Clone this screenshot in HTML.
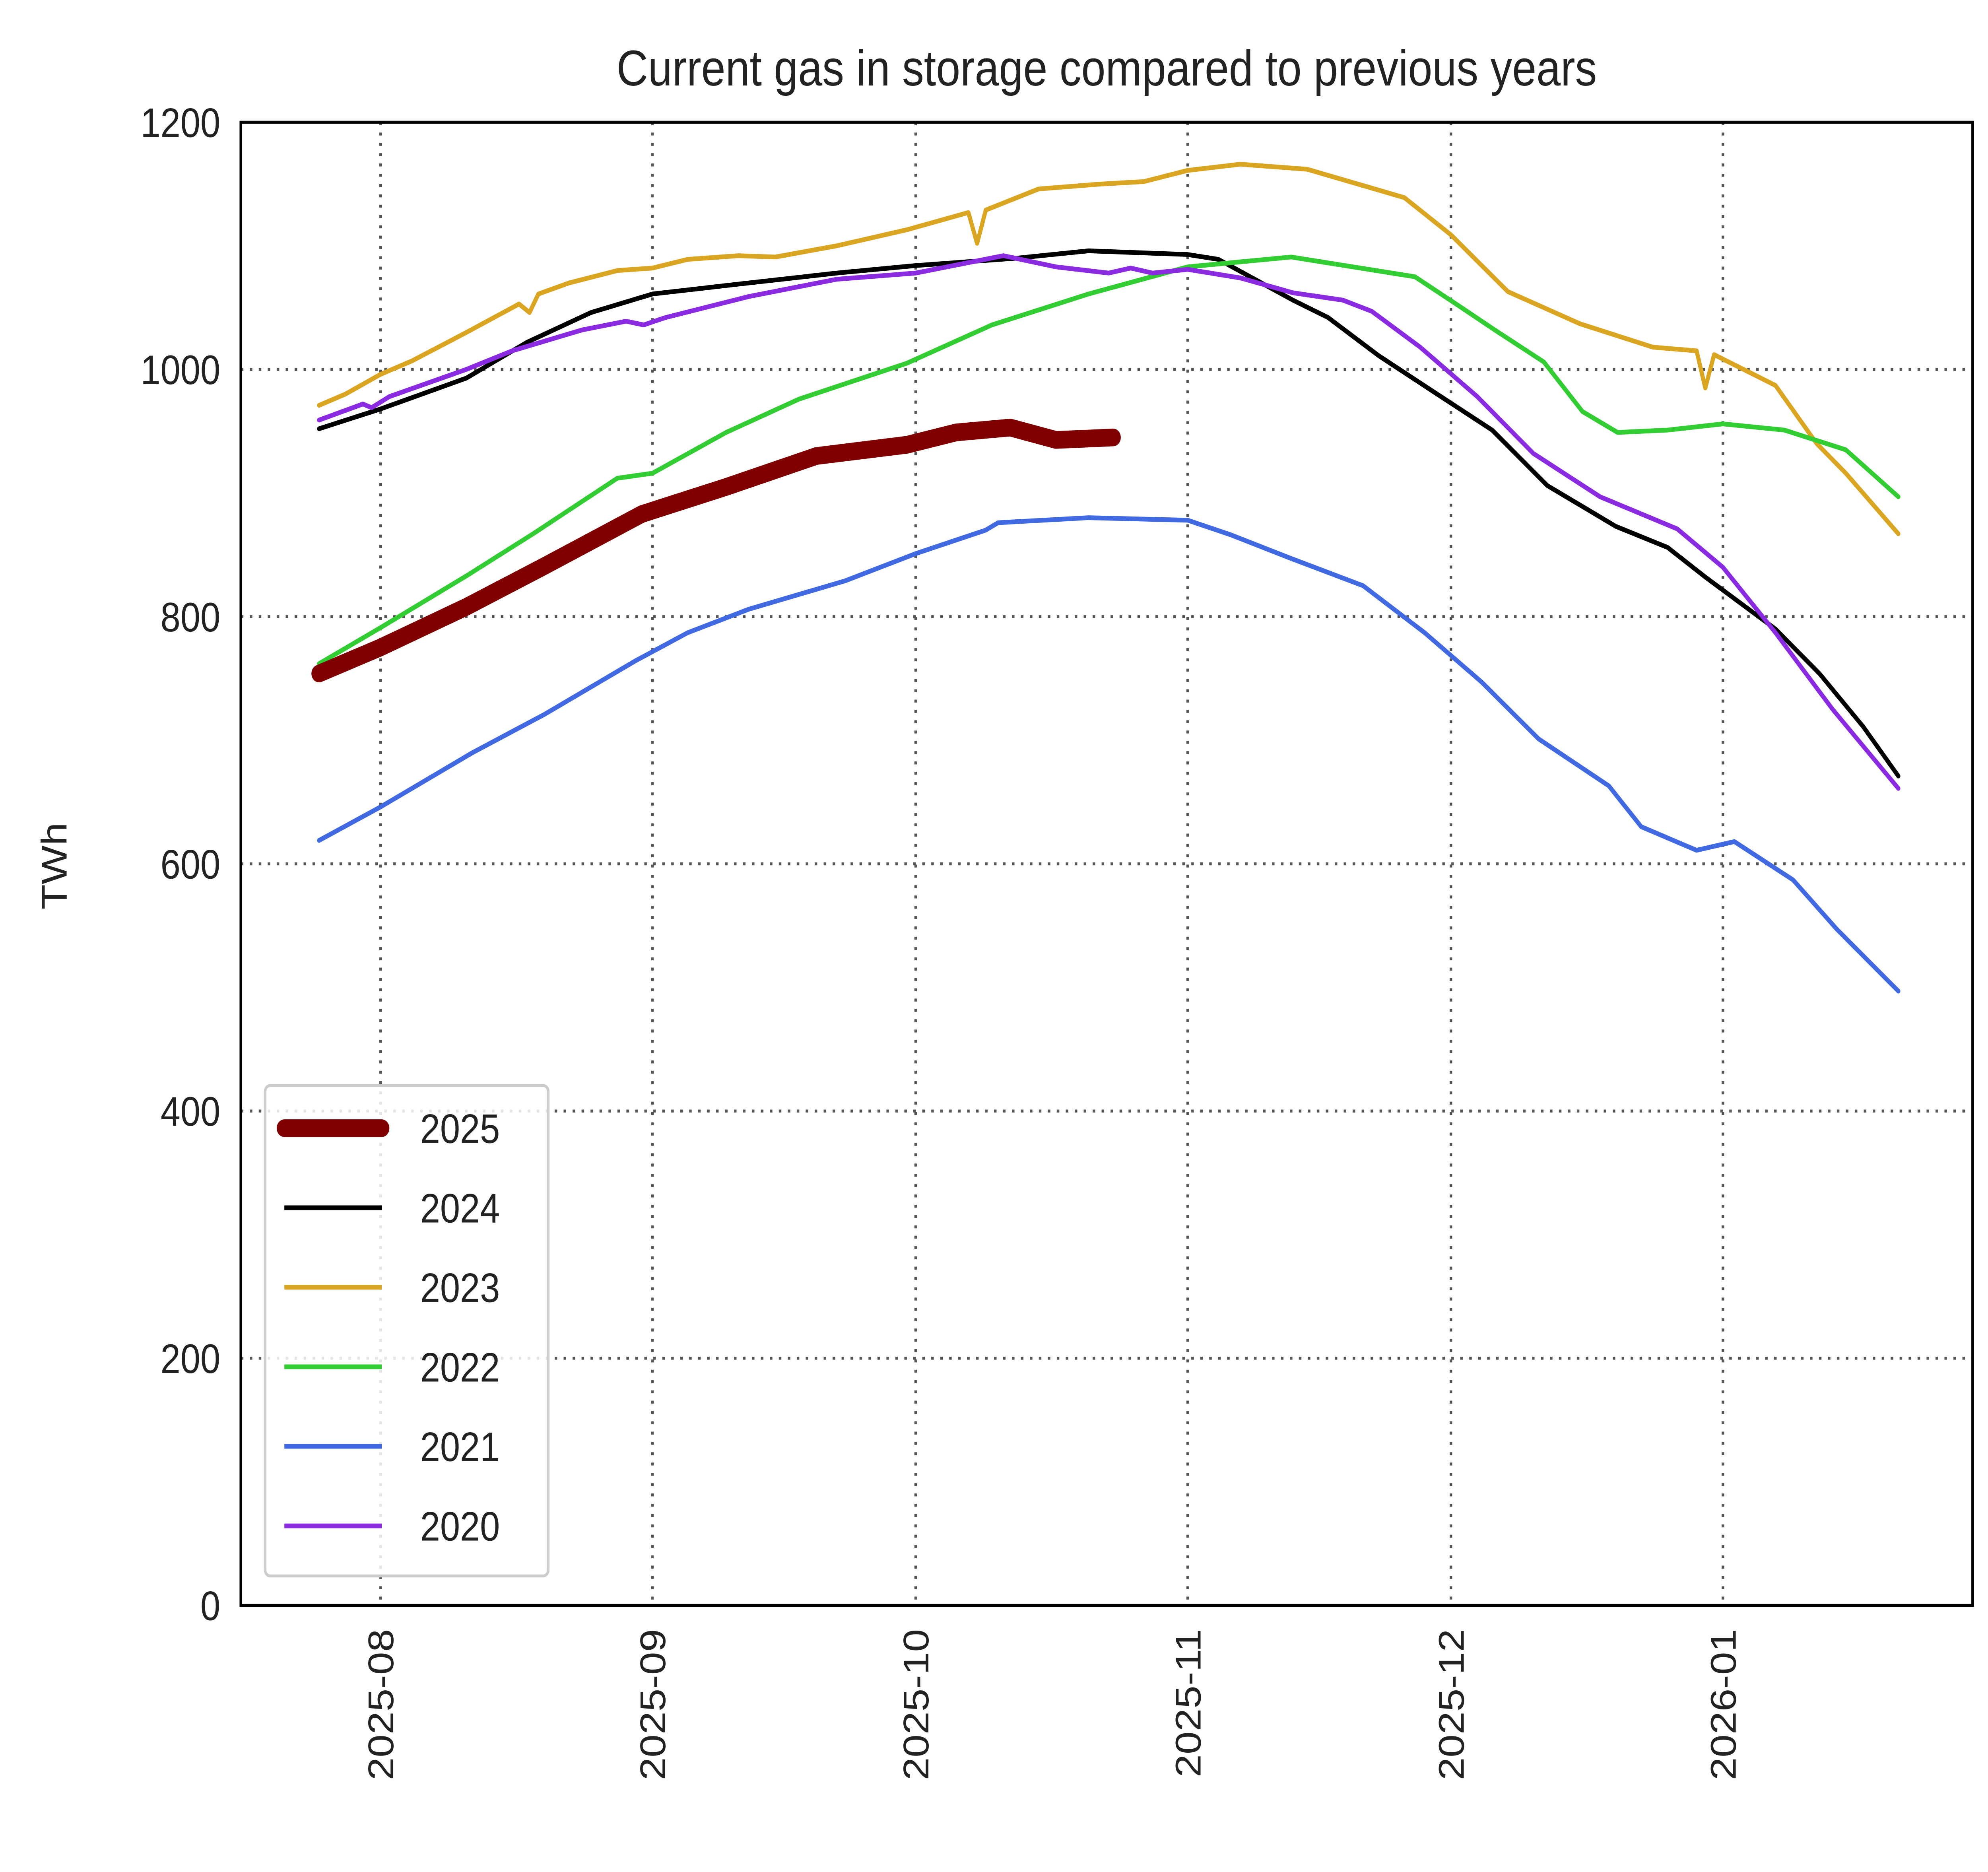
<!DOCTYPE html>
<html><head><meta charset="utf-8"><style>
html,body{margin:0;padding:0;background:#fff;width:100%;height:100%;overflow:hidden}
svg{display:block;width:100vw;height:100vh}
text{font-family:"Liberation Sans",sans-serif;fill:#222}
</style></head><body>
<svg id="chart" viewBox="0 0 1552 1271" preserveAspectRatio="none" xmlns="http://www.w3.org/2000/svg">
<rect x="0" y="0" width="1552" height="1271" fill="#fff"/>
<text x="864" y="58" font-size="34" text-anchor="middle">Current gas in storage compared to previous years</text>
<g id="grid"></g>
<g id="series"></g>
<rect x="188" y="83" width="1352" height="1007" fill="none" stroke="#000" stroke-width="2"/>
<g id="axes"></g>
<text transform="translate(52,588) rotate(-90)" font-size="28" text-anchor="middle">TWh</text>
<g id="legend"></g>
</svg>
<script>
const yTicks=[0,200,400,600,800,1000,1200];
const xTickLabels=["2025-08","2025-09","2025-10","2025-11","2025-12","2026-01"];
const xTickDays=[0,31,61,92,122,153];
const seriesNames=["2025","2024","2023","2022","2021","2020"];
const days2025=[-7,0,9.8,18.7,29.8,39.4,49.7,60,65.6,71.8,77,83.5];
const vals2025=[754,775,808,841,883,905,930,939,949,953,943,945];
const days2024=[-7,0,9.8,16.7,24,31,40.8,52,61,72.5,80.7,92,95.5,104,108,113.8,120,126.7,133,140.8,146.7,151,159,164,169,173];
const vals2024=[952,968,993,1022,1046,1061,1069,1078,1084,1090,1096,1093,1089,1056,1042,1011,982,951,906,873,856,832,790,754,711,671];
const days2023=[-7,-4,0,3.6,9.8,15.8,17,18,21.5,27,31,35,40.8,45,52,60,67,68,69,75,82,87,92,98,105.6,109,116.7,122,128.5,136.7,145,150,151,152,159,163.7,167,173];
const vals2023=[971,980,996,1007,1030,1053,1046,1061,1070,1080,1082,1089,1092,1091,1100,1113,1127,1102,1129,1146,1150,1152,1161,1166,1162,1155,1139,1109,1063,1037,1018,1015,985,1012,987,940,916,867];
const days2022=[-7,0,9.8,17.4,27,31,39.4,47.7,60,69.7,80.7,92,103.8,117.9,123,127,132.6,137,141,146.7,153,160,167,173];
const vals2022=[762,791,833,867,912,916,949,976,1005,1036,1061,1083,1091,1075,1051,1032,1006,966,949,951,956,951,935,897];
const days2021=[-7,0,10.5,18.7,29,35,42,53,61,69,70.4,80.7,92,97,103.8,112,119,125.5,132,140,143.7,150,154.3,161,166,173];
const vals2021=[619,646,690,721,764,787,806,829,851,870,876,880,878,866,847,825,787,747,701,663,630,611,618,587,547,497];
const days2020=[-7,-2,-1,1,9.8,15,23,28,30,32.5,42,52,61,71,77,83,85.5,88,92,98,104,109.7,113,118.5,125,131.4,139,147.8,153,159,165.5,173];
const vals2020=[959,972,969,978,1000,1015,1032,1039,1036,1042,1059,1073,1078,1092,1083,1078,1082,1078,1081,1074,1062,1056,1047,1018,978,932,897,871,840,787,725,661];

const NS="http://www.w3.org/2000/svg";
const X0=188,X1=1540,Y0=1090,Y1=83;
function xs(d){return 297+d*6.85;}
function ys(v){return Y0-(v/1200)*(Y0-Y1);}
function mk(tag,attrs,parent){const e=document.createElementNS(NS,tag);for(const k in attrs)e.setAttribute(k,attrs[k]);parent.appendChild(e);return e;}
const grid=document.getElementById('grid'),axes=document.getElementById('axes'),ser=document.getElementById('series'),leg=document.getElementById('legend');
yTicks.forEach(v=>{
  if(v>0&&v<1200){const l=mk('line',{x1:X0,x2:X1,y1:ys(v),y2:ys(v),stroke:'#555','stroke-width':2,'stroke-dasharray':'2,5'},grid);
  
  }
  const t=mk('text',{x:172,y:ys(v)+10,'font-size':28,'text-anchor':'end'},axes);t.textContent=v;
  
  
});
xTickDays.forEach((d,i)=>{
  const l=mk('line',{x1:xs(d),x2:xs(d),y1:Y1,y2:Y0,stroke:'#555','stroke-width':2,'stroke-dasharray':'2,5'},grid);
  
  
  const t=mk('text',{transform:`translate(${xs(d)+10},1106) rotate(-90)`,'font-size':28,'text-anchor':'end'},axes);t.textContent=xTickLabels[i];
  
  
});
const all=[[days2025,vals2025,'#800000',12],[days2024,vals2024,'#000',3.2],[days2023,vals2023,'#DAA520',3.2],[days2022,vals2022,'#32CD32',3.2],[days2021,vals2021,'#4169E1',3.2],[days2020,vals2020,'#8A2BE2',3.2]];
const order=[1,2,3,4,5,0];
order.forEach(i=>{
  const [d,v,c,w]=all[i];
  const p=mk('polyline',{points:d.map((dd,j)=>xs(dd).toFixed(1)+','+ys(v[j]).toFixed(1)).join(' '),fill:'none',stroke:c,'stroke-width':w,'stroke-linejoin':'round','stroke-linecap':'round'},ser);
  
  
});
const box=mk('rect',{x:207,y:737,width:221,height:333,rx:4,fill:'#fff',stroke:'#ccc','stroke-width':2,'fill-opacity':0.85},leg);


all.forEach((s,i)=>{
  const y=766+i*54;
  const l=mk('line',{x1:222,x2:298,y1:y,y2:y,stroke:s[2],'stroke-width':s[3],'stroke-linecap':i==0?'round':'butt'},leg);
  
  
  const t=mk('text',{x:328,y:y+10,'font-size':28},leg);t.textContent=seriesNames[i];
  
  
});
</script>
</body></html>
